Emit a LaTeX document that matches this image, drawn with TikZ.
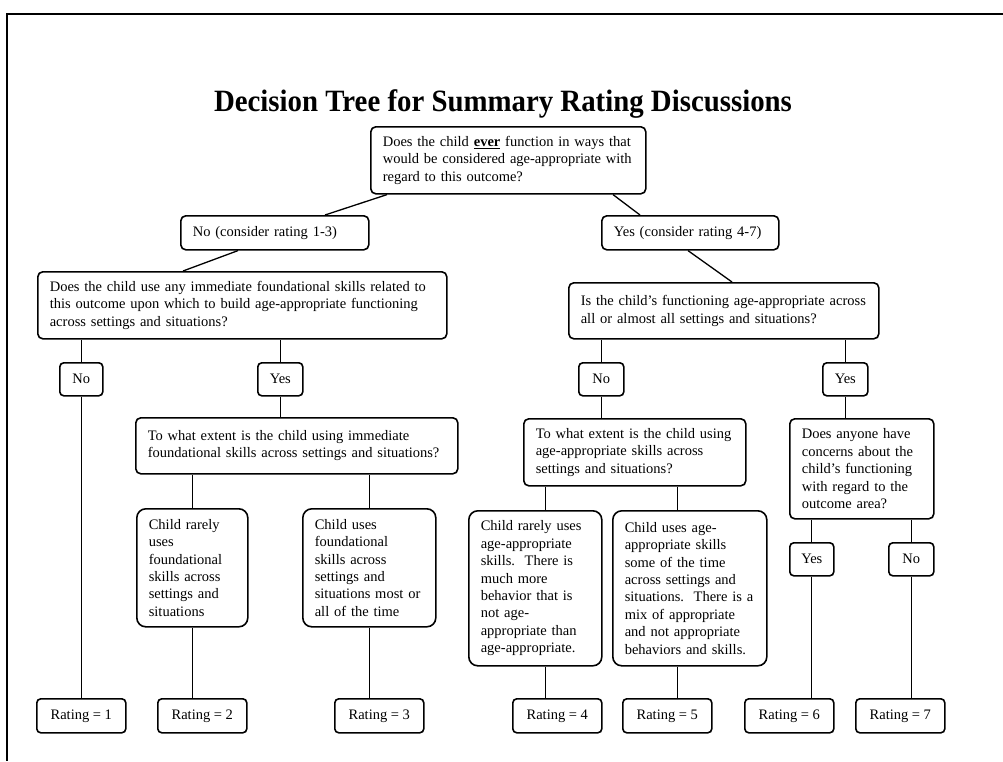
\documentclass[tikz,border=0pt]{standalone}
\usepackage{fontspec}
\setmainfont{Liberation Serif}

\begin{document}
\begin{tikzpicture}[x=1pt, y=-1pt,
	box/.style={draw, line width=1.6pt, rounded corners=5pt, anchor=north west, align=left,
		inner xsep=12pt, inner ysep=0pt, font=\fontsize{14.5}{17.4}\selectfont},
	tallbox/.style={box, rounded corners=9pt},
	tag/.style={draw, line width=1.6pt, rounded corners=4pt, anchor=north west, inner sep=0pt,
		minimum height=33pt, font=\fontsize{14.5}{17.4}\selectfont},
	rating/.style={tag, minimum width=89pt, minimum height=34pt},
	link/.style={line width=1.3pt}]
	
	\useasboundingbox (0,0) rectangle (1003,761);
	
	\coordinate (colc3) at (545.5,0);
	\coordinate (colc4) at (677.5,0);
	
	% Frame
	\draw[line width=1.2pt] (1003,14) -- (7,14) -- (7,761);
	
	% Title
	\node[anchor=base, font=\fontsize{31}{31}\selectfont\bfseries, xscale=0.93] (title) at (503,111)
		{Decision Tree for Summary Rating Discussions};
	
	% Questions
	\node[box, text width=251pt, minimum height=67pt] (q1) at (370,126)
		{Does the child \textbf{\underline{ever}} function in ways that\\
		would be considered age-appropriate with\\
		regard to this outcome?};
	\node[box, text width=164pt, minimum height=34pt] (no13) at (180,215) {No (consider rating 1-3)};
	\node[box, text width=153pt, minimum height=34pt] (yes47) at (601,215) {Yes (consider rating 4-7)};
	\node[box, text width=385pt, minimum height=67pt] (q2) at (37,271)
		{Does the child use any immediate foundational skills related to\\
		this outcome upon which to build age-appropriate functioning\\
		across settings and situations?};
	\node[box, text width=286pt, minimum height=56pt] (q3) at (568,282)
		{Is the child’s functioning age-appropriate across\\
		all or almost all settings and situations?};
	\node[box, text width=298pt, minimum height=56pt] (q4) at (135,417)
		{To what extent is the child using immediate\\
		foundational skills across settings and situations?};
	\node[box, text width=198pt, minimum height=67pt] (q5) at (523,418)
		{To what extent is the child using\\
		age-appropriate skills across\\
		settings and situations?};
	\node[box, text width=120pt, minimum height=100pt] (q6) at (789,418)
		{Does anyone have\\
		concerns about the\\
		child’s functioning\\
		with regard to the\\
		outcome area?};
	
	% Answers
	\node[tag, minimum width=43pt] (nol) at (59,362) {No};
	\node[tag, minimum width=45pt] (yesl) at (257,362) {Yes};
	\node[tag, minimum width=45pt] (nor) at (578,362) {No};
	\node[tag, minimum width=45pt] (yesr) at (822,362) {Yes};
	\node[tag, minimum width=44pt] (yes6) at (789,542) {Yes};
	\node[tag, minimum width=45pt] (no7) at (888,542) {No};
	
	% Descriptions
	\node[tallbox, text width=87pt, minimum height=118pt] (c1) at (136,508)
		{Child rarely\\ uses\\ foundational\\ skills across\\ settings and\\ situations};
	\node[tallbox, text width=109pt, minimum height=118pt] (c2) at (302,508)
		{Child uses\\ foundational\\ skills across\\ settings and\\ situations most or\\ all of the time};
	\node[tallbox, text width=109pt, minimum height=155pt] (c3) at (468,510)
		{Child rarely uses\\ age-appropriate\\ skills.~~There is\\ much more\\ behavior that is\\ not age-\\
		appropriate than\\ age-appropriate.};
	\node[tallbox, text width=130pt, minimum height=155pt] (c4) at (612,510)
		{Child uses age-\\ appropriate skills\\ some of the time\\ across settings and\\ situations.~~There is a\\
		mix of appropriate\\ and not appropriate\\ behaviors and skills.};
	
	% Ratings
	\node[rating] (r1) at (36,698) {Rating = 1};
	\node[rating] (r2) at (157,698) {Rating = 2};
	\node[rating] (r3) at (334,698) {Rating = 3};
	\node[rating] (r4) at (512,698) {Rating = 4};
	\node[rating] (r5) at (622,698) {Rating = 5};
	\node[rating] (r6) at (744,698) {Rating = 6};
	\node[rating] (r7) at (855,698) {Rating = 7};
	
	% Slanted links
	\draw[link] ([xshift=17pt]q1.south west) -- ([xshift=145pt]no13.north west);
	\draw[link] ([xshift=243pt]q1.south west) -- ([xshift=39pt]yes47.north west);
	\draw[link] ([xshift=58pt]no13.south west) -- ([xshift=146pt]q2.north west);
	\draw[link] ([xshift=87pt]yes47.south west) -- ([xshift=164pt]q3.north west);
	
	% Vertical links, left side
	\draw[link] (nol.north) -- (nol.north |- q2.south);
	\draw[link] (yesl.north) -- (yesl.north |- q2.south);
	\draw[link] (yesl.south) -- (yesl.south |- q4.north);
	\draw[link] (c1.north) -- (c1.north |- q4.south);
	\draw[link] (c2.north) -- (c2.north |- q4.south);
	\draw[link] (nol.south) -- (nol.south |- r1.north);
	\draw[link] (c1.south) -- (c1.south |- r2.north);
	\draw[link] (c2.south) -- (c2.south |- r3.north);
	
	% Vertical links, right side
	\draw[link] (nor.north) -- (nor.north |- q3.south);
	\draw[link] (nor.south) -- (nor.south |- q5.north);
	\draw[link] (yesr.north) -- (yesr.north |- q3.south);
	\draw[link] (yesr.south) -- (yesr.south |- q6.north);
	\draw[link] (q5.south -| colc3) -- (c3.north -| colc3);
	\draw[link] (q5.south -| colc4) -- (c4.north -| colc4);
	\draw[link] (c3.south -| colc3) -- (r4.north -| colc3);
	\draw[link] (c4.south -| colc4) -- (r5.north -| colc4);
	\draw[link] (yes6.north) -- (yes6.north |- q6.south);
	\draw[link] (no7.north) -- (no7.north |- q6.south);
	\draw[link] (yes6.south) -- (yes6.south |- r6.north);
	\draw[link] (no7.south) -- (no7.south |- r7.north);
	
\end{tikzpicture}
\end{document}
